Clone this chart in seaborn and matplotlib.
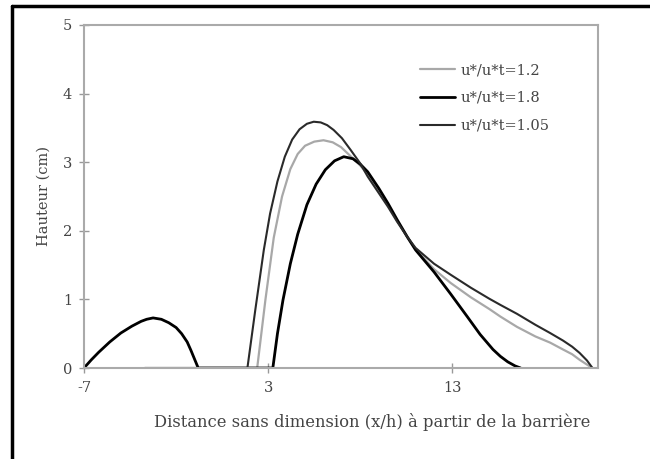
import matplotlib
matplotlib.use("Agg")
import matplotlib.pyplot as plt
import seaborn as sns
import pandas as pd
from matplotlib.lines import Line2D

sns.set_style("white")
plt.rcParams['font.family'] = ['DejaVu Serif', 'Liberation Serif']
plt.rcParams['axes.unicode_minus'] = False

labels = ["u*/u*t=1.2", "u*/u*t=1.8", "u*/u*t=1.05"]

x_12 = [-3.7, 2.4, 2.85, 3.3, 3.75, 4.2, 4.6, 5.0, 5.5, 6.0, 6.5, 6.95, 7.5, 8.0, 8.4,
        9.0, 9.5, 10.0, 10.55, 11.0, 12.0, 12.9, 14.0, 15.0, 15.6, 16.5, 17.5, 18.3,
        19.0, 19.5, 19.9, 20.3, 20.6]
y_12 = [0, 0, 1.0, 1.9, 2.5, 2.9, 3.12, 3.24, 3.30, 3.32, 3.29, 3.22, 3.08, 2.95, 2.82,
        2.58, 2.37, 2.15, 1.91, 1.73, 1.44, 1.24, 1.03, 0.86, 0.75, 0.60, 0.46, 0.37,
        0.27, 0.20, 0.12, 0.05, 0]

x_18 = [-7, -6.6, -6.2, -5.6, -5.0, -4.4, -3.9, -3.6, -3.25, -2.8, -2.4, -2.0, -1.7, -1.4,
        -1.2, -1.0, -0.8, 3.25, 3.5, 3.8, 4.2, 4.6, 5.1, 5.6, 6.1, 6.6, 7.1, 7.6, 8.0,
        8.4, 9.0, 9.5, 10.0, 10.55, 11.0, 12.0, 12.9, 13.8, 14.5, 15.2, 15.6, 16.0, 16.4, 16.7]
y_18 = [0, 0.12, 0.23, 0.38, 0.51, 0.61, 0.68, 0.71, 0.73, 0.71, 0.66, 0.59, 0.50, 0.38,
        0.26, 0.13, 0, 0, 0.5, 0.99, 1.52, 1.95, 2.38, 2.68, 2.89, 3.02, 3.08, 3.05, 2.97,
        2.86, 2.62, 2.40, 2.16, 1.91, 1.72, 1.40, 1.08, 0.75, 0.49, 0.27, 0.17, 0.09, 0.03, 0]

x_105 = [-3.7, 1.87, 2.3, 2.76, 3.1, 3.5, 3.9, 4.3, 4.7, 5.1, 5.47, 5.85, 6.2, 6.55, 7.0,
         7.47, 8.0, 8.4, 9.0, 9.5, 10.0, 10.55, 11.0, 12.0, 12.9, 14.0, 15.0, 15.6, 16.5,
         17.5, 18.3, 19.0, 19.5, 19.9, 20.3, 20.6]
y_105 = [0, 0, 0.85, 1.72, 2.25, 2.72, 3.08, 3.33, 3.48, 3.56, 3.59, 3.58, 3.54, 3.47, 3.35,
         3.18, 2.98, 2.79, 2.55, 2.35, 2.13, 1.91, 1.75, 1.52, 1.36, 1.17, 1.01, 0.92, 0.79,
         0.63, 0.51, 0.40, 0.31, 0.22, 0.11, 0]

x_ticks = [-7, 3, 13]
y_ticks = [0, 1, 2, 3, 4, 5]

fig = plt.figure(figsize=(6.5, 4.59), dpi=100)
ax = fig.add_axes([84/650, 1-368/459, (598-84)/650, (368-25)/459])

styles = [("#a8a8a8", 1.6), ("#000000", 2.0), ("#2a2a2a", 1.5)]
series = [(x_12, y_12), (x_18, y_18), (x_105, y_105)]
for (xs, ys), (c, lw), lab in zip(series, styles, labels):
    df = pd.DataFrame({"x": xs, "y": ys})
    sns.lineplot(data=df, x="x", y="y", ax=ax, color=c, linewidth=lw, sort=False,
                 estimator=None)

ax.set_xlim(-7, 20.9)
ax.set_ylim(0, 5)
ax.set_xticks(x_ticks)
ax.set_yticks(y_ticks)
ax.set_xlabel("")
ax.set_ylabel("Hauteur (cm)", fontsize=10.5, color="#444444")
ax.yaxis.set_label_coords(-0.064, 0.5)
ax.tick_params(axis="both", direction="inout", length=7, width=1, color="#999999",
               labelsize=10.5, labelcolor="#444444")
ax.tick_params(axis="x", pad=6)
ax.tick_params(axis="y", pad=5)
ax.tick_params(bottom=True, left=True)
for s in ax.spines.values():
    s.set_color("#aaaaaa")
    s.set_linewidth(1.5)

fig.text(372/650, 1-422/459, "Distance sans dimension (x/h) à partir de la barrière",
         ha="center", va="center", fontsize=11.8, color="#444444")

handles = [Line2D([0], [0], color=c, lw=lw) for c, lw in styles]
ax.legend(handles, labels, loc="upper left",
          bbox_to_anchor=((420-84)/514, 1-(63-25)/343), borderaxespad=0, borderpad=0,
          frameon=False, fontsize=10.5, handlelength=2.4, handletextpad=0.4,
          labelspacing=0.95, labelcolor="#444444")

# outer frame lines (top and left)
fig.add_artist(Line2D([12/650, 1], [1-6/459, 1-6/459], color="black", lw=2.5,
                      transform=fig.transFigure))
fig.add_artist(Line2D([12/650, 12/650], [0, 1-6/459], color="black", lw=2.5,
                      transform=fig.transFigure))

fig.savefig("out.png", dpi=100)
